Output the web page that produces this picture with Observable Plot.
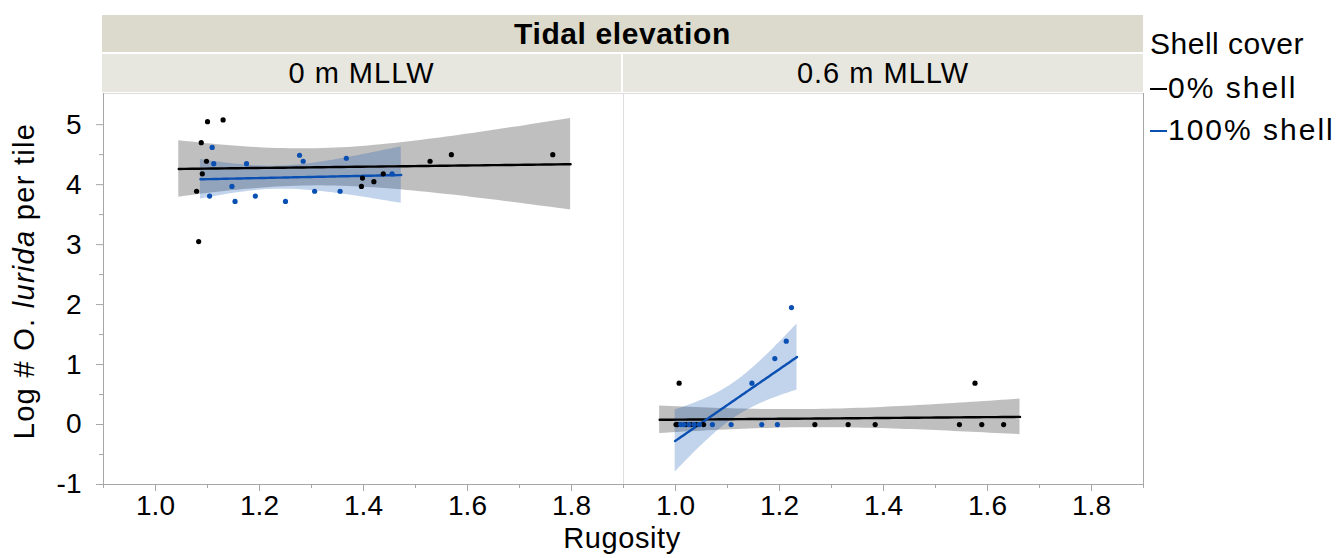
<!DOCTYPE html>
<html>
<head>
<meta charset="utf-8">
<script src="https://cdn.jsdelivr.net/npm/d3@7"></script>
<script src="https://cdn.jsdelivr.net/npm/@observablehq/plot@0.6"></script>
<style>
  body { margin: 0; background: #fff; font-family: "Liberation Sans", Arial, sans-serif; color: #000; }
  #chart { position: relative; width: 1336px; height: 558px; overflow: hidden; }
  #chart svg { position: absolute; left: 0; top: 0; }
  .band { position: absolute; display: flex; align-items: center; justify-content: center; white-space: nowrap; }
  .band.top { left: 102px; top: 15px; width: 1041px; height: 37px; background: #dcdacc; font-weight: bold; font-size: 30px; letter-spacing: 0.6px; }
  .band.sub { top: 54px; height: 38px; background: #e8e7df; font-size: 29px; letter-spacing: 1px; }
  .legend { position: absolute; left: 1150px; font-size: 30px; line-height: 30px; white-space: nowrap; }
  .legend.title { letter-spacing: 0.5px; }
  .legend.item { left: 1168px; letter-spacing: 2px; }
  .swatch { position: absolute; left: 1150px; width: 17px; height: 2px; }
</style>
</head>
<body>
<div id="chart"></div>
<script>
// Facet panels (tidal elevation) and series (shell cover)
const panels = ["0 m MLLW", "0.6 m MLLW"];
const covers = ["0% shell", "100% shell"];
const coverColors = ["#000000", "#0a4fb2"];

// 0 m MLLW, 0% shell
const rugLowBare = [1.100, 1.130, 1.088, 1.098, 1.090, 1.079, 1.083, 1.528, 1.569, 1.764, 1.398, 1.396, 1.420, 1.438];
const logLowBare = [5.05, 5.08, 4.70, 4.39, 4.18, 3.89, 3.05, 4.39, 4.50, 4.50, 4.11, 3.97, 4.05, 4.18];

// 0 m MLLW, 100% shell
const rugLowShell = [1.109, 1.112, 1.175, 1.147, 1.104, 1.153, 1.192, 1.250, 1.277, 1.284, 1.306, 1.355, 1.367, 1.455];
const logLowShell = [4.62, 4.35, 4.35, 3.97, 3.81, 3.72, 3.81, 3.72, 4.49, 4.39, 3.89, 3.89, 4.44, 4.18];

// 0.6 m MLLW, 0% shell
const rugHighBare = [1.007, 1.576, 1.001, 1.004, 1.020, 1.030, 1.040, 1.054, 1.268, 1.332, 1.384, 1.546, 1.589, 1.631];
const logHighBare = [0.69, 0.69, 0, 0, 0, 0, 0, 0, 0, 0, 0, 0, 0, 0];

// 0.6 m MLLW, 100% shell
const rugHighShell = [1.010, 1.016, 1.026, 1.036, 1.046, 1.071, 1.107, 1.166, 1.196, 1.147, 1.191, 1.213, 1.223];
const logHighShell = [0, 0, 0, 0, 0, 0, 0, 0, 0, 0.69, 1.10, 1.39, 1.95];

// Axis ticks
const xMajorTicks = [1.0, 1.2, 1.4, 1.6, 1.8];
const xMinorTicks = [0.9, 1.1, 1.3, 1.5, 1.7, 1.9];
const yMajorTicks = [-1, 0, 1, 2, 3, 4, 5];
const yMinorTicks = [-0.5, 0.5, 1.5, 2.5, 3.5, 4.5];
const xDomain = [0.9, 1.9];
const yDomain = [-1, 5.52];

const groups = [
  {panel: panels[0], cover: covers[0], xs: rugLowBare, ys: logLowBare},
  {panel: panels[0], cover: covers[1], xs: rugLowShell, ys: logLowShell},
  {panel: panels[1], cover: covers[0], xs: rugHighBare, ys: logHighBare},
  {panel: panels[1], cover: covers[1], xs: rugHighShell, ys: logHighShell}
];

// Student t 0.975 quantile (Cornish–Fisher expansion around the normal quantile)
function tQuantile975(df) {
  const z = 1.959963985;
  const z3 = z ** 3, z5 = z ** 5, z7 = z ** 7, z9 = z ** 9;
  const g1 = (z3 + z) / 4;
  const g2 = (5 * z5 + 16 * z3 + 3 * z) / 96;
  const g3 = (3 * z7 + 19 * z5 + 17 * z3 - 15 * z) / 384;
  const g4 = (79 * z9 + 776 * z7 + 1482 * z5 - 1920 * z3 - 945 * z) / 92160;
  return z + g1 / df + g2 / df ** 2 + g3 / df ** 3 + g4 / df ** 4;
}

// Least-squares line with a 95% confidence band for the mean,
// evaluated slightly past the observed rugosity range
function fitBand(g) {
  const {xs, ys} = g;
  const n = xs.length;
  const mx = d3.mean(xs), my = d3.mean(ys);
  let sxx = 0, sxy = 0;
  xs.forEach((x, i) => { sxx += (x - mx) ** 2; sxy += (x - mx) * (ys[i] - my); });
  const b = sxy / sxx, a = my - b * mx;
  let sse = 0;
  xs.forEach((x, i) => { sse += (ys[i] - a - b * x) ** 2; });
  const s = Math.sqrt(sse / (n - 2));
  const t = tQuantile975(n - 2);
  const [x0, x1] = d3.extent(xs);
  const pad = 0.05 * (x1 - x0);
  const steps = 60;
  return d3.range(steps + 1).map(i => {
    const x = x0 - pad + i * (x1 - x0 + 2 * pad) / steps;
    const f = a + b * x;
    const h = t * s * Math.sqrt(1 / n + (x - mx) ** 2 / sxx);
    return {panel: g.panel, cover: g.cover, x, fit: f, lo: f - h, hi: f + h};
  });
}

const points = groups.flatMap(g => g.xs.map((x, i) => ({panel: g.panel, cover: g.cover, x, y: g.ys[i]})));
const bands = groups.flatMap(fitBand);

const axisGray = "#a6a6a6";
const font = "Liberation Sans, Arial, sans-serif";

const plot = Plot.plot({
  width: 1336,
  height: 558,
  marginLeft: 102,
  marginRight: 193,
  marginTop: 93,
  marginBottom: 74,
  style: {fontFamily: font, fontSize: "28px", background: "transparent", color: "#000"},
  fx: {domain: panels, axis: null, padding: 0},
  x: {domain: xDomain},
  y: {domain: yDomain},
  color: {domain: covers, range: coverColors},
  marks: [
    Plot.frame({stroke: "#dedede"}),
    Plot.areaY(bands, {fx: "panel", x: "x", y1: "lo", y2: "hi", z: "cover", fill: "cover", fillOpacity: 0.25}),
    Plot.line(bands, {fx: "panel", x: "x", y: "fit", z: "cover", stroke: "cover", strokeWidth: 2.4}),
    Plot.dot(points, {fx: "panel", x: "x", y: "y", fill: "cover", r: 2.6}),
    // frame edges
    Plot.ruleY([yDomain[0]], {stroke: axisGray}),
    Plot.ruleX([xDomain[0]], {fx: () => panels[0], stroke: axisGray}),
    Plot.ruleX([xDomain[1]], {fx: () => panels[1], stroke: axisGray}),
    // x axis: minor ticks, major ticks, labels
    Plot.axisX({ticks: xMinorTicks, tickSize: 4, tickFormat: () => "", color: axisGray, label: null}),
    Plot.axisX({ticks: xMajorTicks, tickSize: 7, tickFormat: () => "", color: axisGray, label: null}),
    Plot.axisX({ticks: xMajorTicks, tickSize: 0, tickPadding: 11, tickFormat: ".1f", fontSize: 28, color: "#000", label: null}),
    // y axis: minor ticks, major ticks, labels
    Plot.axisY({ticks: yMinorTicks, tickSize: 4, tickFormat: () => "", color: axisGray, label: null}),
    Plot.axisY({ticks: yMajorTicks, tickSize: 7, tickFormat: () => "", color: axisGray, label: null}),
    Plot.axisY({ticks: yMajorTicks, tickSize: 0, tickPadding: 22, tickFormat: d => String(d), fontSize: 28, color: "#000", label: null})
  ]
});

const chart = document.getElementById("chart");
chart.appendChild(plot);

// Axis titles
const svg = d3.select(plot);
const yTitle = svg.append("text")
  .attr("transform", "translate(34,281) rotate(-90)")
  .attr("text-anchor", "middle")
  .attr("font-family", font)
  .attr("font-size", 29)
  .attr("letter-spacing", "1.3px")
  .attr("fill", "#000");
yTitle.append("tspan").text("Log # O. ");
yTitle.append("tspan").attr("font-style", "italic").text("lurida");
yTitle.append("tspan").text(" per tile");

svg.append("text")
  .attr("x", 622)
  .attr("y", 547.5)
  .attr("text-anchor", "middle")
  .attr("font-family", font)
  .attr("font-size", 29)
  .attr("letter-spacing", "0.6px")
  .attr("fill", "#000")
  .text("Rugosity");

// Facet header bands
function addDiv(cls, style, text) {
  const el = document.createElement("div");
  el.className = cls;
  Object.assign(el.style, style);
  if (text != null) el.textContent = text;
  chart.appendChild(el);
  return el;
}
addDiv("band top", {}, "Tidal elevation");
addDiv("band sub", {left: "102px", width: "519px"}, panels[0]);
addDiv("band sub", {left: "623px", width: "520px"}, panels[1]);

// Legend
addDiv("legend title", {top: "29px"}, "Shell cover");
covers.forEach((c, i) => {
  const top = 73 + i * 42;
  addDiv("swatch", {top: (top + 15) + "px", background: coverColors[i]});
  addDiv("legend item", {top: top + "px"}, c);
});
</script>
</body>
</html>
